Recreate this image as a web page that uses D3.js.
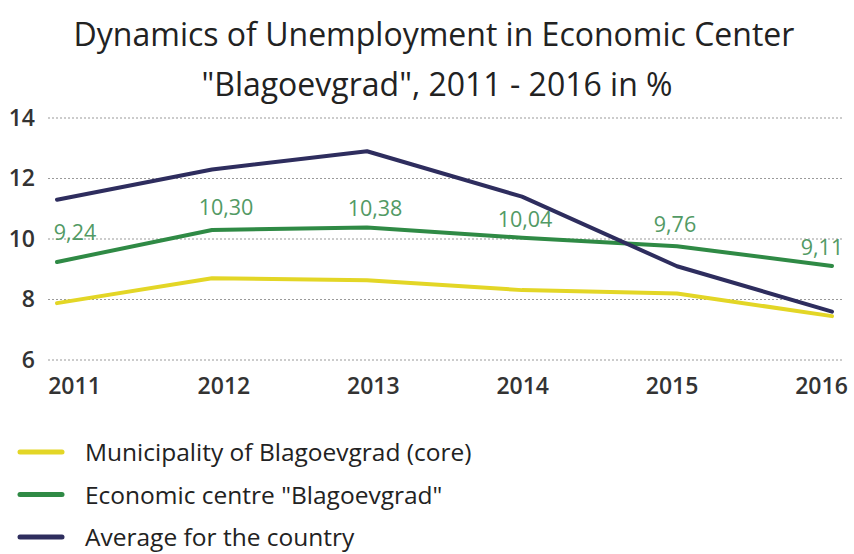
<!DOCTYPE html>
<html>
<head>
<meta charset="utf-8">
<script src="https://cdn.jsdelivr.net/npm/d3@7"></script>
<style>
  body { margin: 0; background: #fff; }
  svg text { font-family: "Open Sans", sans-serif; }
</style>
</head>
<body>
<svg id="chart"></svg>
<script>
// data
var years = [2011, 2012, 2013, 2014, 2015, 2016];
var municipality = [7.88, 8.70, 8.64, 8.31, 8.20, 7.45];
var economicCentre = [9.24, 10.30, 10.38, 10.04, 9.76, 9.11];
var country = [11.3, 12.3, 12.9, 11.4, 9.1, 7.6];
var centreLabels = ["9,24", "10,30", "10,38", "10,04", "9,76", "9,11"];
var yTicks = [6, 8, 10, 12, 14];
var seriesNames = ["Municipality of Blagoevgrad (core)", "Economic centre \"Blagoevgrad\"", "Average for the country"];
var colors = ["#e3d626", "#2f8a45", "#2e2d5e"];

var size = { width: 854, height: 554 };
var margin = { top: 118, right: 22, bottom: 194, left: 57 };

var svg = d3.select("#chart")
  .attr("width", size.width)
  .attr("height", size.height);

// title
svg.append("text")
  .attr("x", 434).attr("y", 46)
  .attr("text-anchor", "middle")
  .attr("font-size", 32)
  .attr("fill", "#222")
  .text("Dynamics of Unemployment in Economic Center");
svg.append("text")
  .attr("x", 437).attr("y", 96)
  .attr("text-anchor", "middle")
  .attr("font-size", 32)
  .attr("fill", "#222")
  .text("\"Blagoevgrad\", 2011 - 2016 in %");

var g = svg.append("g")
  .attr("transform", "translate(" + margin.left + "," + margin.top + ")");

var x = d3.scalePoint()
  .domain(years)
  .range([0, 775]);

// the year labels sit a little inside the line ends
var xLabels = d3.scalePoint()
  .domain(years)
  .range([17, 764]);

var y = d3.scaleLinear()
  .domain([6, 14])
  .range([242, 0]);

// grid
g.selectAll(".grid")
  .data(yTicks)
  .enter()
  .append("line")
  .attr("class", "grid")
  .attr("x1", -9).attr("x2", 785)
  .attr("y1", function(d){ return y(d); })
  .attr("y2", function(d){ return y(d); })
  .attr("stroke", "#9a9a9a")
  .attr("stroke-width", 1.2)
  .attr("stroke-dasharray", "2,2");

// y axis
var yAxis = d3.axisLeft(y).tickValues(yTicks).tickSize(0).tickPadding(22);
g.append("g")
  .call(yAxis)
  .call(function(s){ s.select(".domain").remove(); })
  .selectAll("text")
  .attr("font-size", 23)
  .attr("font-weight", 600)
  .attr("fill", "#333")
  .style("font-family", "Open Sans, sans-serif");

// x axis
var xAxis = d3.axisBottom(xLabels).tickSize(0).tickPadding(18);
g.append("g")
  .attr("transform", "translate(0," + y(6) + ")")
  .call(xAxis)
  .call(function(s){ s.select(".domain").remove(); })
  .selectAll("text")
  .attr("font-size", 23)
  .attr("font-weight", 600)
  .attr("fill", "#333")
  .style("font-family", "Open Sans, sans-serif");

var line = d3.line()
  .x(function(d, i){ return x(years[i]); })
  .y(function(d){ return y(d); });

var series = [municipality, economicCentre, country];
series.forEach(function(s, i){
  g.append("path")
    .datum(s)
    .attr("fill", "none")
    .attr("stroke", colors[i])
    .attr("stroke-width", 4)
    .attr("stroke-linejoin", "round")
    .attr("stroke-linecap", "round")
    .attr("d", line);
});

// value labels for economic centre
var labelDx = [18, 14, 8, 3, -2, -10];
var labelDy = [-22, -15, -12, -11, -14, -11];
g.selectAll(".vlabel")
  .data(economicCentre)
  .enter()
  .append("text")
  .attr("class", "vlabel")
  .attr("x", function(d, i){ return x(years[i]) + labelDx[i]; })
  .attr("y", function(d, i){ return y(d) + labelDy[i]; })
  .attr("text-anchor", "middle")
  .attr("font-size", 21.5)
  .attr("fill", "#529a64")
  .text(function(d, i){ return centreLabels[i]; });

// legend
var legend = svg.append("g").attr("transform", "translate(20,452)");
seriesNames.forEach(function(name, i){
  var row = legend.append("g").attr("transform", "translate(0," + (i * 42.5) + ")");
  row.append("line")
    .attr("x1", 0).attr("x2", 42)
    .attr("y1", 0).attr("y2", 0)
    .attr("stroke", colors[i])
    .attr("stroke-width", 5)
    .attr("stroke-linecap", "round");
  row.append("text")
    .attr("x", 65).attr("y", 9)
    .attr("font-size", 24.5)
    .attr("fill", "#222")
    .text(name);
});
</script>
</body>
</html>
